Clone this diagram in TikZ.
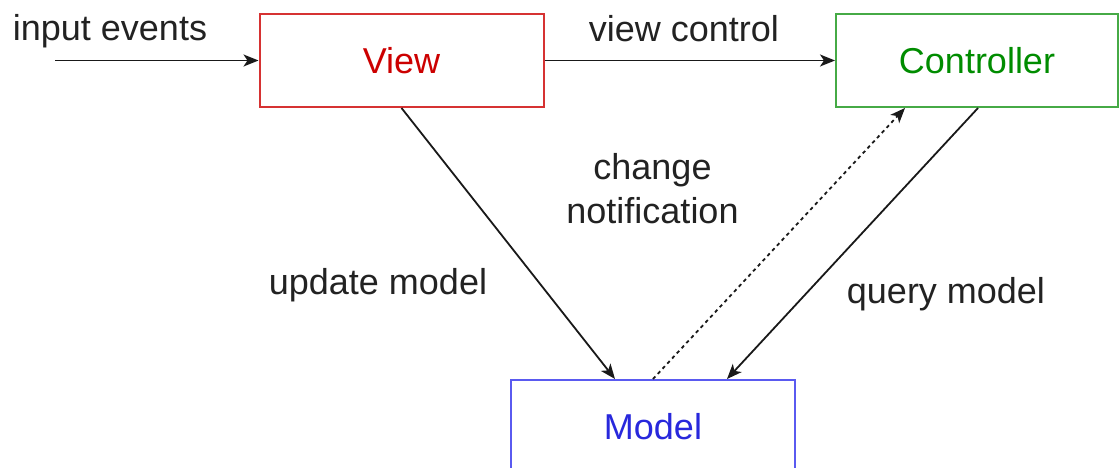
\documentclass[tikz,border=0pt]{standalone}
\usepackage{fontspec}
\setmainfont{Liberation Sans}
\usetikzlibrary{arrows.meta}
\definecolor{viewtx}{RGB}{204,0,0}
\definecolor{viewbd}{RGB}{214,50,50}
\definecolor{ctrltx}{RGB}{0,140,0}
\definecolor{ctrlbd}{RGB}{70,170,70}
\definecolor{modeltx}{RGB}{40,40,220}
\definecolor{modelbd}{RGB}{90,90,240}
\definecolor{lbltx}{RGB}{34,34,34}
\begin{document}
\begin{tikzpicture}[x=1pt,y=-1pt,
  box/.style={draw,line width=2pt,minimum width=284pt,minimum height=93pt,inner sep=0pt,font=\fontsize{36}{43}\selectfont},
  lbl/.style={font=\fontsize{36}{44}\selectfont,text=lbltx,inner sep=0pt,anchor=base},
  conn/.style={line width=1.8pt,draw=black!90,-{Stealth[length=15pt,width=12pt,inset=4pt]}},
  dotconn/.style={conn,dash pattern=on 3.5pt off 3.5pt}]
\useasboundingbox (0,0) rectangle (1120,468);
\node[box,draw=viewbd,text=viewtx] (view) at (401.5,60.5) {View};
\node[box,draw=ctrlbd,text=ctrltx,minimum width=282pt] (ctrl) at (977,60.5) {Controller};
\node[box,draw=modelbd,text=modeltx] (model) at (653,426.5) {Model};
\coordinate (in) at (55,60.5);
\draw[conn] (in) -- (view.west);
\draw[conn] (view.east) -- (ctrl.west);
\draw[conn] (view.south) -- ([xshift=-38pt]model.north);
\draw[dotconn] (model.north) -- ([xshift=-72pt]ctrl.south);
\draw[conn] ([xshift=1pt]ctrl.south) -- ([xshift=74pt]model.north);
\node[lbl] (linput) at (110,41) {input events};
\node[lbl] (lviewctrl) at (684,42) {view control};
\node[lbl,anchor=center,align=center] (lchange) at (652.5,189) {change\\notification};
\node[lbl] (lupdate) at (378,294) {update model};
\node[lbl] (lquery) at (946,303) {query model};
\end{tikzpicture}
\end{document}
